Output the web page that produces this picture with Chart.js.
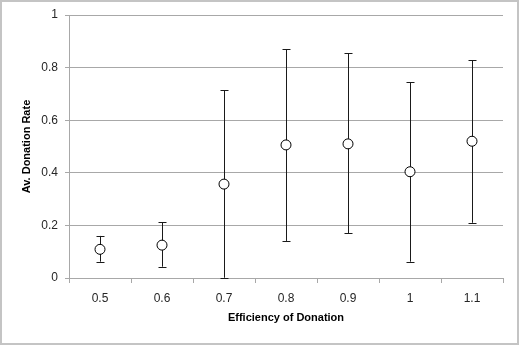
<!DOCTYPE html>
<html>
<head>
<meta charset="utf-8">
<script src="https://cdn.jsdelivr.net/npm/chart.js@4/dist/chart.umd.min.js"></script>
<style>
    html, body { margin: 0; padding: 0; background: #fff; }
    #wrap { position: relative; width: 519px; height: 345px; }
    #frame { position: absolute; left: 0; top: 0; width: 519px; height: 345px; box-sizing: border-box; border: 2px solid #c4c4c4; pointer-events: none; }
</style>
</head>
<body>
<div id="wrap">
    <canvas id="chart" width="519" height="345"></canvas>
    <div id="frame"></div>
</div>
<script>
// Data
const categories = ['0.5', '0.6', '0.7', '0.8', '0.9', '1', '1.1'];
const avgRate = [0.109, 0.125, 0.357, 0.506, 0.51, 0.404, 0.52];
const errUpper = [0.16, 0.212, 0.714, 0.87, 0.854, 0.745, 0.828];
const errLower = [0.062, 0.043, 0.001, 0.141, 0.17, 0.062, 0.21];
const yTicks = [0, 0.2, 0.4, 0.6, 0.8, 1];

const textColor = '#262626';
const gridColor = '#a8a8a8';

// Error bars drawn under the points
const errorBars = {
    id: 'errorBars',
    beforeDatasetsDraw(chart) {
        const ctx = chart.ctx;
        const xs = chart.scales.x;
        const ys = chart.scales.y;
        ctx.save();
        ctx.strokeStyle = '#1a1a1a';
        ctx.lineWidth = 1;
        categories.forEach((c, i) => {
            const x = Math.round(xs.getPixelForValue(i)) + 0.5;
            const top = ys.getPixelForValue(errUpper[i]);
            const bot = ys.getPixelForValue(errLower[i]);
            ctx.beginPath();
            ctx.moveTo(x, top);
            ctx.lineTo(x, bot);
            ctx.moveTo(x - 4, Math.round(top) + 0.5);
            ctx.lineTo(x + 4, Math.round(top) + 0.5);
            ctx.moveTo(x - 4, Math.round(bot) + 0.5);
            ctx.lineTo(x + 4, Math.round(bot) + 0.5);
            ctx.stroke();
        });
        ctx.restore();
    }
};

const ctx = document.getElementById('chart').getContext('2d');
const chart = new Chart(ctx, {
    type: 'line',
    data: {
        labels: categories,
        datasets: [{
            label: 'Av. Donation Rate',
            data: avgRate,
            showLine: false,
            pointStyle: 'circle',
            pointRadius: 5,
            pointBorderWidth: 1,
            pointBorderColor: '#000',
            pointBackgroundColor: '#fff'
        }]
    },
    options: {
        responsive: false,
        animation: false,
        layout: { padding: { left: 0, top: 15, right: 16, bottom: 0 } },
        plugins: {
            legend: { display: false },
            tooltip: { enabled: false }
        },
        scales: {
            x: {
                offset: true,
                grid: {
                    offset: true,
                    drawOnChartArea: false,
                    color: gridColor,
                    tickLength: 5
                },
                border: { color: gridColor },
                ticks: {
                    color: textColor,
                    font: { family: 'Liberation Sans', size: 12 },
                    padding: 8
                },
                title: {
                    display: true,
                    text: 'Efficiency of Donation',
                    color: '#000',
                    font: { family: 'Liberation Sans', size: 11, weight: 'bold' },
                    padding: { top: 0, bottom: 20 }
                },
                afterFit(scale) { scale.height = 67; }
            },
            y: {
                min: 0,
                max: 1,
                afterBuildTicks(scale) { scale.ticks = yTicks.map(v => ({ value: v })); },
                grid: {
                    color: gridColor,
                    tickLength: 4
                },
                border: { color: gridColor },
                ticks: {
                    color: textColor,
                    font: { family: 'Liberation Sans', size: 12 },
                    padding: 7,
                    callback: v => String(v)
                },
                title: {
                    display: true,
                    text: 'Av. Donation Rate',
                    color: '#000',
                    font: { family: 'Liberation Sans', size: 11, weight: 'bold' },
                    padding: { top: 20, bottom: 0 }
                },
                afterFit(scale) { scale.width = 69; }
            }
        }
    },
    plugins: [errorBars]
});
</script>
</body>
</html>
